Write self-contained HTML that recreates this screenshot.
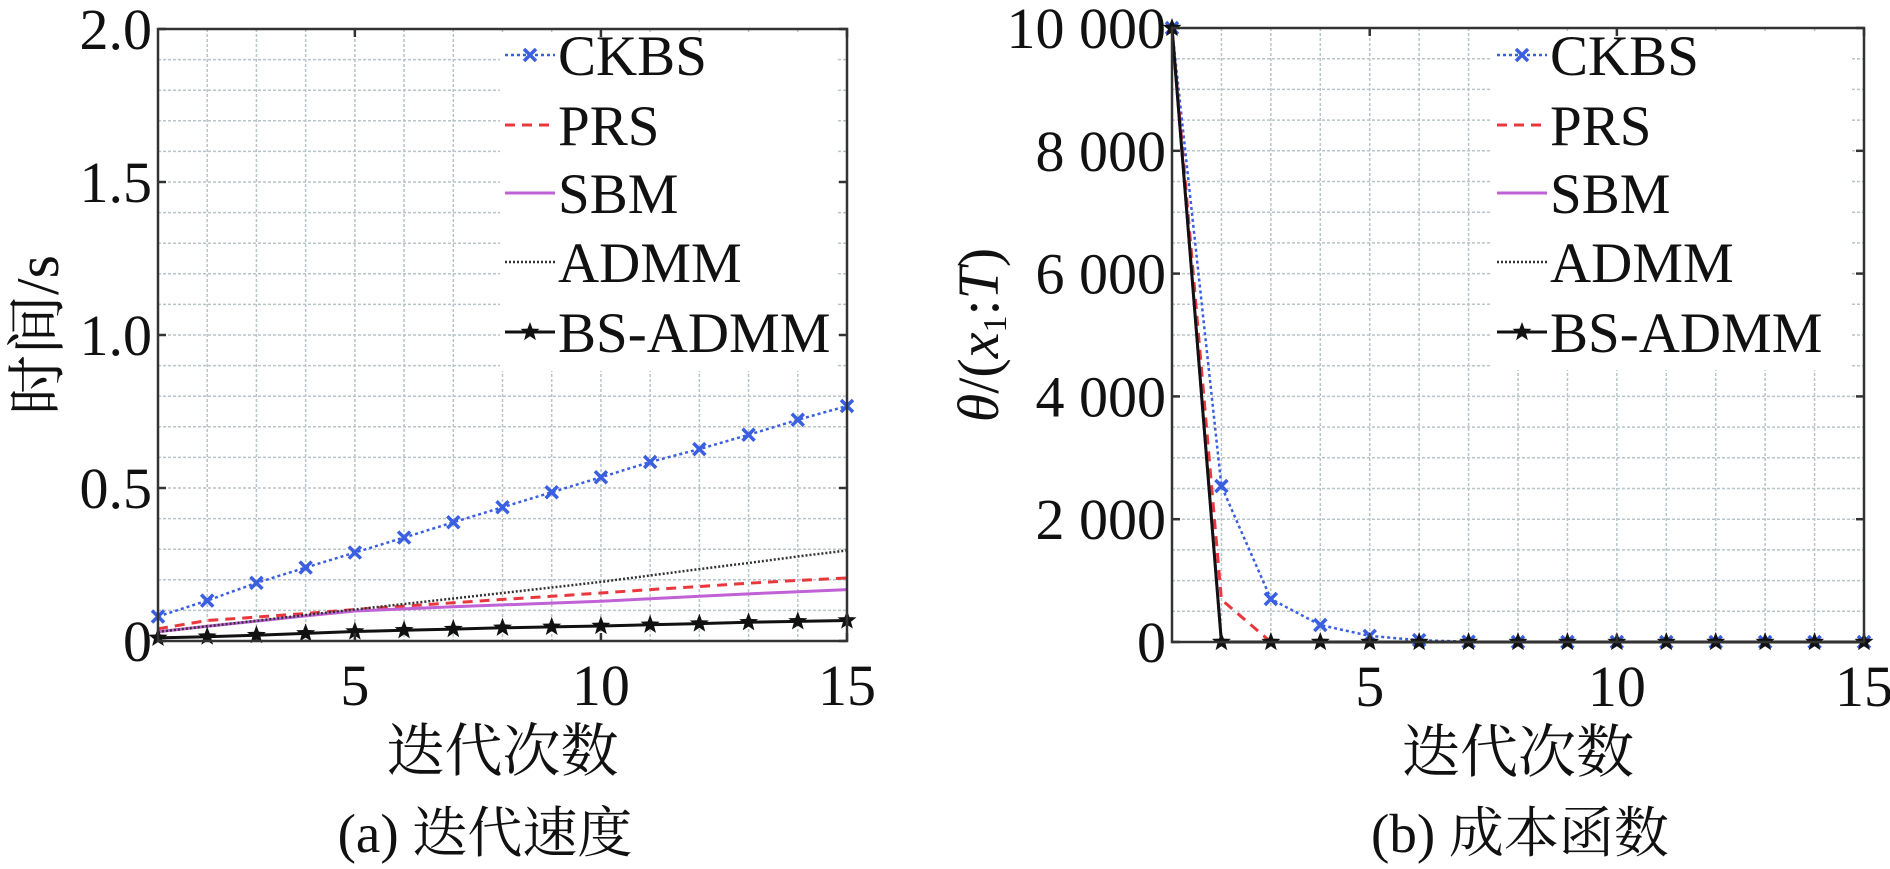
<!DOCTYPE html>
<html><head><meta charset="utf-8">
<style>
body{margin:0;background:#fff;width:1890px;height:869px;overflow:hidden}
svg{display:block}
text{font-family:"Liberation Serif","Noto Serif CJK SC","Noto Sans CJK SC",serif;fill:#111}
</style></head>
<body>
<svg id="chart" width="1890" height="869" viewBox="0 0 1890 869" xmlns="http://www.w3.org/2000/svg"></svg>
<script>
const iterations = [1,2,3,4,5,6,7,8,9,10,11,12,13,14,15];
const seriesNames = ["CKBS","PRS","SBM","ADMM","BS-ADMM"];
// Panel (a): time in seconds
const timeCKBS  = [0.08,0.132,0.19,0.24,0.289,0.338,0.388,0.437,0.486,0.535,0.585,0.627,0.674,0.723,0.768];
const timePRS   = [0.04,0.067,0.078,0.09,0.103,0.114,0.125,0.136,0.146,0.157,0.168,0.178,0.189,0.198,0.206];
const timeSBM   = [0.03,0.048,0.065,0.082,0.098,0.105,0.112,0.118,0.124,0.13,0.138,0.146,0.154,0.161,0.168];
const timeADMM  = [0.03,0.048,0.066,0.085,0.103,0.121,0.139,0.157,0.175,0.193,0.214,0.235,0.255,0.276,0.296];
const timeBS    = [0.01,0.014,0.019,0.025,0.031,0.035,0.039,0.043,0.046,0.049,0.053,0.057,0.061,0.064,0.067];
const yTicksA = [0,0.5,1.0,1.5,2.0];
const yTickLabelsA = ["0","0.5","1.0","1.5","2.0"];
// Panel (b): cost function
const costCKBS = [10000,2540,700,277,100,30,5,0,0,0,0,0,0,0,0];
const costPRS  = [10000,690,0,0,0,0,0,0,0,0,0,0,0,0,0];
const costSBM  = [10000,0,0,0,0,0,0,0,0,0,0,0,0,0,0];
const costADMM = [10000,0,0,0,0,0,0,0,0,0,0,0,0,0,0];
const costBS   = [10000,0,0,0,0,0,0,0,0,0,0,0,0,0,0];
const yTicksB = [0,2000,4000,6000,8000,10000];
const yTickLabelsB = ["0","2 000","4 000","6 000","8 000","10 000"];
const xTicks = [5,10,15];

const NS="http://www.w3.org/2000/svg";
const svg=document.getElementById('chart');
function el(tag,attrs,parent,txt){const e=document.createElementNS(NS,tag);for(const k in attrs)e.setAttribute(k,attrs[k]);if(txt!==undefined)e.textContent=txt;(parent||svg).appendChild(e);return e;}

const styles={
 "CKBS":{stroke:"#3a5fe0",dash:"3,3",w:2.5,marker:"x"},
 "PRS":{stroke:"#e8383d",dash:"10,7",w:3,marker:null},
 "SBM":{stroke:"#c061d6",dash:null,w:3,marker:null},
 "ADMM":{stroke:"#333",dash:"2,2",w:2.5,marker:null},
 "BS-ADMM":{stroke:"#111",dash:null,w:3,marker:"star"}
};
function starPts(cx,cy,r){let p=[];for(let i=0;i<10;i++){const a=-Math.PI/2+i*Math.PI/5;const rr=i%2?r*0.42:r;p.push((cx+rr*Math.cos(a)).toFixed(1)+","+(cy+rr*Math.sin(a)).toFixed(1));}return p.join(" ");}
function marker(g,type,x,y,color){
 if(type==="x"){const m=el('path',{d:`M${x-6},${y-6}L${x+6},${y+6}M${x-6},${y+6}L${x+6},${y-6}`,stroke:color,'stroke-width':3.5},g);}
 else if(type==="star"){const m=el('polygon',{points:starPts(x,y,10),fill:color},g);}
}

function panel(cfg){
 const {L,R,T,B,ymax,yTicks,yLabels,series,id,ylabel,caption,legX,legW,capX,ylabelItalic}=cfg;
 const g=el('g',{});
 
 
 const xs=v=>L+(v-1)/14*(R-L);
 const ys=v=>B-v/ymax*(B-T);
 const grid=el('g',{stroke:"#b8c4c8",'stroke-width':1.5,'stroke-dasharray':"3,2"},g);
 
 
 for(let i=2;i<=14;i++) el('line',{x1:xs(i),x2:xs(i),y1:T,y2:B},grid);
 for(let k=1;k<20;k++){const v=ymax*k/20;el('line',{x1:L,x2:R,y1:ys(v),y2:ys(v)},grid);}
 const lb=el('rect',{x:legX,y:T+4,width:legW,height:338,fill:"#fff"},g);
 
 
 series.forEach((vals,si)=>{
  const name=seriesNames[si];const st=styles[name];
  const sg=el('g',{},g);
  
  
  const pts=vals.map((v,i)=>xs(iterations[i]).toFixed(1)+","+ys(v).toFixed(1)).join(" ");
  const pl=el('polyline',{points:pts,fill:"none",stroke:st.stroke,'stroke-width':st.w},sg);
  if(st.dash)pl.setAttribute('stroke-dasharray',st.dash);
  
  
  if(st.marker) vals.forEach((v,i)=>marker(sg,st.marker,xs(iterations[i]),ys(v),st.stroke));
 });
 const ax=el('rect',{x:L,y:T,width:R-L,height:B-T,fill:"none",stroke:"#333",'stroke-width':2.5},g);
 
 
 yTicks.forEach((v,i)=>{
  el('line',{x1:L,x2:L+8,y1:ys(v),y2:ys(v),stroke:"#333",'stroke-width':2.5},g);
  el('line',{x1:R,x2:R-8,y1:ys(v),y2:ys(v),stroke:"#333",'stroke-width':2.5},g);
  const t=el('text',{x:L-6,y:ys(v)+20,'text-anchor':'end','font-size':58},g,yLabels[i]);
  
  
 });
 xTicks.forEach(v=>{
  el('line',{x1:xs(v),x2:xs(v),y1:B,y2:B-8,stroke:"#333",'stroke-width':2.5},g);
  el('line',{x1:xs(v),x2:xs(v),y1:T,y2:T+8,stroke:"#333",'stroke-width':2.5},g);
  const t=el('text',{x:xs(v),y:B+64,'text-anchor':'middle','font-size':58},g,String(v));
  
  
 });
 const rows=[69,139,207,276,346];
 seriesNames.forEach((n,i)=>{
  const st=styles[n];const y=rows[i]-14;
  const lg=el('g',{},g);
  
  
  const ln=el('line',{x1:legX+5,x2:legX+55,y1:y,y2:y,stroke:st.stroke,'stroke-width':st.w},lg);
  if(st.dash)ln.setAttribute('stroke-dasharray',st.dash);
  if(st.marker)marker(lg,st.marker,legX+30,y,st.stroke);
  el('text',{x:legX+58,y:rows[i]+6,'font-size':57},lg,n);
 });
 const yl=el('text',{transform:`translate(${cfg.ylx},${(T+B)/2}) rotate(-90)`,'text-anchor':'middle','font-size':cfg.ylfs},g);
 
 
 if(ylabelItalic){
  el('tspan',{'font-style':'italic'},yl,'θ');
  el('tspan',{},yl,'/(');
  el('tspan',{'font-style':'italic'},yl,'x');
  el('tspan',{'font-size':34,dy:8},yl,'1');
  el('tspan',{dy:-8},yl,':');
  el('tspan',{'font-style':'italic'},yl,'T');
  el('tspan',{},yl,')');
 } else yl.textContent=ylabel;
 const xl=el('text',{x:(L+R)/2,y:B+130,'text-anchor':'middle','font-size':58},g,"迭代次数");
 
 
 const cp=el('text',{x:capX,y:852,'text-anchor':'middle','font-size':55},g,caption);
 
 
}

panel({id:'panel-a-iteration-speed',L:158,R:847,T:29,B:641,ymax:2,yTicks:yTicksA,yLabels:yTickLabelsA,
 series:[timeCKBS,timePRS,timeSBM,timeADMM,timeBS],ylabel:"时间/s",ylx:58,ylfs:60,caption:"(a) 迭代速度",capX:485,legX:500,legW:338});
panel({id:'panel-b-cost-function',L:1172,R:1864,T:28,B:642,ymax:10000,yTicks:yTicksB,yLabels:yTickLabelsB,
 series:[costCKBS,costPRS,costSBM,costADMM,costBS],ylx:998,ylfs:58,ylabelItalic:true,caption:"(b) 成本函数",capX:1520,legX:1492,legW:358});
</script>
</body></html>
